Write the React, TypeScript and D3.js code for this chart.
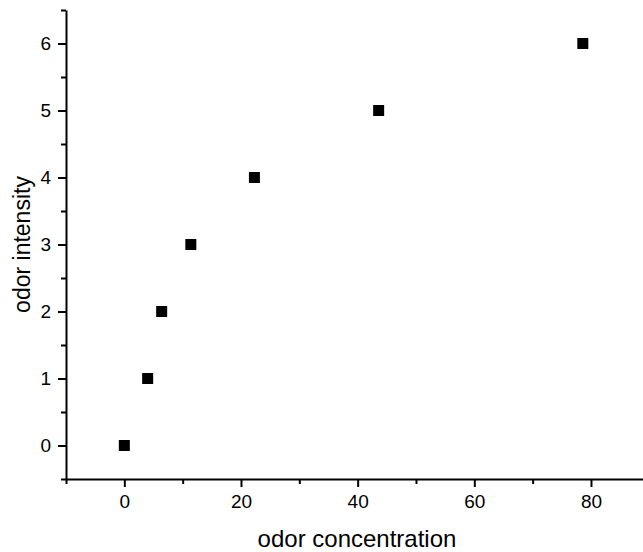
import { useEffect, useRef } from 'react';
import * as d3 from 'd3';

const concentration = [0, 4.0, 6.4, 11.4, 22.3, 43.6, 78.6];
const intensity = [0, 1, 2, 3, 4, 5, 6];
const xTicks = [0, 20, 40, 60, 80];
const xMinor = [-10, 10, 30, 50, 70];
const yTicks = [0, 1, 2, 3, 4, 5, 6];
const yMinor = [-0.5, 0.5, 1.5, 2.5, 3.5, 4.5, 5.5, 6.5];

const App = () => {
  const svgRef = useRef<SVGSVGElement>(null);

  useEffect(() => {
    const width = 643;
    const height = 552;
    const font = '"Liberation Sans", Arial, sans-serif';

    const svg = d3.select(svgRef.current)
      .attr('width', width)
      .attr('height', height);
    svg.selectAll('*').remove();

    const xScale = d3.scaleLinear().domain([-10, 90]).range([66, 649.3]);
    const yScale = d3.scaleLinear().domain([-0.5, 6.5]).range([479, 10]);

    // minor ticks first, then the main axes on top
    svg.append('g')
      .attr('transform', `translate(0, ${yScale(-0.5)})`)
      .call(d3.axisBottom(xScale).tickValues(xMinor).tickSize(5).tickSizeOuter(0).tickFormat(() => ''))
      .call(g => g.select('.domain').remove())
      .selectAll('line').attr('stroke-width', 2);

    svg.append('g')
      .attr('transform', `translate(${xScale(-10)}, 0)`)
      .call(d3.axisLeft(yScale).tickValues(yMinor).tickSize(5).tickSizeOuter(0).tickFormat(() => ''))
      .call(g => g.select('.domain').remove())
      .selectAll('line').attr('stroke-width', 2);

    const xAxis = svg.append('g')
      .attr('transform', `translate(0, ${yScale(-0.5)})`)
      .call(d3.axisBottom(xScale).tickValues(xTicks).tickSize(8).tickSizeOuter(0).tickPadding(8).tickFormat(d3.format('d')));
    xAxis.select('.domain').attr('stroke-width', 2);
    xAxis.selectAll('line').attr('stroke-width', 2);
    xAxis.selectAll('text').attr('font-size', 19).attr('font-family', font).attr('fill', '#000');

    const yAxis = svg.append('g')
      .attr('transform', `translate(${xScale(-10)}, 0)`)
      .call(d3.axisLeft(yScale).tickValues(yTicks).tickSize(8).tickSizeOuter(0).tickPadding(7).tickFormat(d3.format('d')));
    yAxis.select('.domain').attr('stroke-width', 2);
    yAxis.selectAll('line').attr('stroke-width', 2);
    yAxis.selectAll('text').attr('font-size', 19).attr('font-family', font).attr('fill', '#000');

    const points = concentration.map((c, i) => ({ c, v: intensity[i] }));
    const size = 11;
    svg.selectAll('.point')
      .data(points)
      .enter().append('rect')
      .attr('class', 'point')
      .attr('x', d => xScale(d.c) - size / 2)
      .attr('y', d => yScale(d.v) - size / 2)
      .attr('width', size)
      .attr('height', size)
      .attr('fill', '#000');

    svg.append('text')
      .attr('x', 357)
      .attr('y', 547)
      .attr('text-anchor', 'middle')
      .attr('font-size', 24)
      .attr('font-family', font)
      .text('odor concentration');

    svg.append('text')
      .attr('transform', `translate(30, ${yScale(3)}) rotate(-90)`)
      .attr('text-anchor', 'middle')
      .attr('font-size', 23)
      .attr('font-family', font)
      .text('odor intensity');
  }, []);

  return (
    <div>
      <svg ref={svgRef} style={{ position: 'absolute', left: 0, top: 0, background: '#fff' }} />
    </div>
  );
};

export default App;
